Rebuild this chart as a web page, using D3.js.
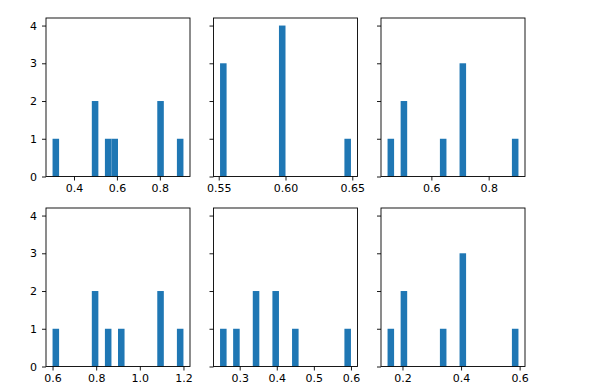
<!DOCTYPE html>
<html>
<head>
<meta charset="utf-8">
<script src="https://cdn.jsdelivr.net/npm/d3@7"></script>
<style>
  body { margin: 0; background: #fff; }
  text { font-family: "DejaVu Sans", sans-serif; }
</style>
</head>
<body>
<svg id="chart" width="598" height="391"></svg>
<script>
// sample values, one list per panel (8 draws each)
var samples1 = [0.30, 0.49, 0.50, 0.56, 0.59, 0.80, 0.81, 0.91];
var samples2 = [0.551, 0.552, 0.554, 0.596, 0.597, 0.598, 0.599, 0.649];
var samples3 = [0.447, 0.50, 0.51, 0.64, 0.705, 0.71, 0.715, 0.904];
var samples4 = [0.60, 0.79, 0.80, 0.85, 0.91, 1.09, 1.10, 1.20];
var samples5 = [0.247, 0.29, 0.34, 0.345, 0.395, 0.40, 0.45, 0.60];
var samples6 = [0.149, 0.20, 0.21, 0.34, 0.40, 0.405, 0.41, 0.596];

var xticks1 = [0.4, 0.6, 0.8];
var xticks2 = [0.55, 0.60, 0.65];
var xticks3 = [0.6, 0.8];
var xticks4 = [0.6, 0.8, 1.0, 1.2];
var xticks5 = [0.3, 0.4, 0.5, 0.6];
var xticks6 = [0.2, 0.4, 0.6];
var yticks = [0, 1, 2, 3, 4];

var nBins = 20;

var panels = [
  {data: samples1, ticks: xticks1, fmt: '.1f'},
  {data: samples2, ticks: xticks2, fmt: '.2f'},
  {data: samples3, ticks: xticks3, fmt: '.1f'},
  {data: samples4, ticks: xticks4, fmt: '.1f'},
  {data: samples5, ticks: xticks5, fmt: '.1f'},
  {data: samples6, ticks: xticks6, fmt: '.1f'}
];

var colLeft = [46, 213.5, 381];
var rowTop = [18, 208];
var axW = 144;
var axH = 158.5;

var svg = d3.select('#chart');

// bin every panel first so the y range can be shared
panels.forEach(function(p) {
  var lo = d3.min(p.data), hi = d3.max(p.data);
  var step = (hi - lo) / nBins;
  var edges = d3.range(1, nBins).map(function(i) { return lo + i * step; });
  p.lo = lo;
  p.hi = hi;
  p.bins = d3.bin().domain([lo, hi]).thresholds(edges)(p.data);
});

var maxCount = d3.max(panels, function(p) {
  return d3.max(p.bins, function(b) { return b.length; });
});

panels.forEach(function(p, i) {
  var col = i % 3, row = Math.floor(i / 3);
  var x0 = colLeft[col], y0 = rowTop[row];
  var pad = (p.hi - p.lo) * 0.05;

  var xScale = d3.scaleLinear()
    .domain([p.lo - pad, p.hi + pad])
    .range([0, axW]);
  var yScale = d3.scaleLinear()
    .domain([0, maxCount * 1.05])
    .range([axH, 0]);

  var g = svg.append('g')
    .attr('transform', 'translate(' + x0 + ',' + y0 + ')');

  g.selectAll('rect.bar')
    .data(p.bins.filter(function(b) { return b.length > 0; }))
    .enter()
    .append('rect')
    .attr('class', 'bar')
    .attr('x', function(b) { return xScale(b.x0); })
    .attr('width', function(b) { return xScale(b.x1) - xScale(b.x0); })
    .attr('y', function(b) { return yScale(b.length); })
    .attr('height', function(b) { return axH - yScale(b.length); })
    .attr('fill', '#1f77b4');

  var xAxis = d3.axisBottom(xScale)
    .tickValues(p.ticks)
    .tickFormat(d3.format(p.fmt))
    .tickSize(4)
    .tickPadding(4);

  var yAxis = d3.axisLeft(yScale)
    .tickValues(yticks)
    .tickSize(4)
    .tickPadding(5)
    .tickFormat(col === 0 ? d3.format('d') : function() { return ''; });

  var xg = g.append('g')
    .attr('transform', 'translate(0,' + axH + ')')
    .call(xAxis);
  var yg = g.append('g').call(yAxis);

  [xg, yg].forEach(function(a) {
    a.select('.domain').remove();
    a.selectAll('line').attr('stroke', '#000').attr('stroke-width', 0.9);
    a.selectAll('text')
      .attr('fill', '#000')
      .style('font-size', '11px')
      .style('font-family', '"DejaVu Sans", sans-serif');
  });

  g.append('rect')
    .attr('x', 0)
    .attr('y', 0)
    .attr('width', axW)
    .attr('height', axH)
    .attr('fill', 'none')
    .attr('stroke', '#000')
    .attr('stroke-width', 0.9);
});
</script>
</body>
</html>
